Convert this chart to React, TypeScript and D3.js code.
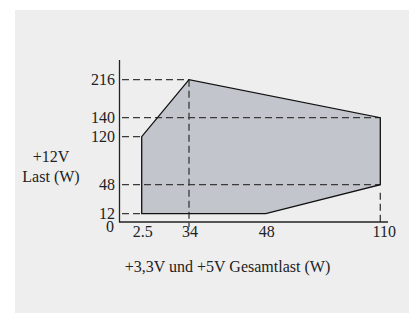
import React from 'react';
import * as d3 from 'd3';

// schematic chart: the ticks are not evenly spaced, so the scales are piecewise
const xTicks = [2.5, 34, 48, 110];
const yTicks = [0, 12, 48, 120, 140, 216];

// operating region corners [+3,3V/+5V load, +12V load]
const regionX = [2.5, 2.5, 34, 110, 110, 48];
const regionY = [12, 120, 216, 140, 48, 12];

// dashed guide lines
const hGuides = [
  { y: 216, toX: 34 },
  { y: 140, toX: 110 },
  { y: 120, toX: 2.5 },
  { y: 48, toX: 110 },
  { y: 12, toX: 2.5 },
];
const vGuides = [
  { x: 34, fromY: 216 },
  { x: 110, fromY: 48 },
];

const W = 409;
const H = 313;
const font = '"Liberation Serif", "Times New Roman", serif';

export default function App() {
  const x = d3.scaleLinear()
    .domain([0, 2.5, 34, 48, 110])
    .range([119.5, 141.7, 189, 265.7, 380.3]);
  const y = d3.scaleLinear()
    .domain([0, 12, 48, 120, 140, 216])
    .range([222, 213.7, 184.7, 136.7, 117.7, 79.7]);

  const pts: [number, number][] = regionX.map((v, i) => [x(v), y(regionY[i])]);
  const line = d3.line();
  const area = line(pts) + 'Z';
  const axisX0 = x(0);
  const axisY0 = y(0);

  return (
    <svg width={W} height={H} style={{ position: 'absolute', left: 0, top: 0, background: '#fff' }}>
      <rect x={15} y={10} width={W - 15} height={H - 10} fill="#eeeeee" />
      <path d={area} fill="#c2c5cc" />
      <g stroke="#3a3a3a" strokeWidth={1.3} strokeDasharray="7,4" fill="none">
        {hGuides.map((g, i) => (
          <line key={'h' + i} x1={axisX0 + 2.5} x2={x(g.toX)} y1={y(g.y)} y2={y(g.y)} />
        ))}
        {vGuides.map((g, i) => (
          <line key={'v' + i} x1={x(g.x)} x2={x(g.x)} y1={i === 0 ? y(g.fromY) : y(g.fromY) + 8} y2={i === 0 ? axisY0 + 5 : axisY0} />
        ))}
      </g>
      <path d={area} fill="none" stroke="#111" strokeWidth={1.3} strokeLinejoin="miter" />
      <g stroke="#222" strokeWidth={1.3}>
        <line x1={axisX0} x2={axisX0} y1={60} y2={axisY0 + 0.6} />
        <line x1={axisX0} x2={388} y1={axisY0} y2={axisY0} />
      </g>
      <g fontFamily={font} fontSize={16} fill="#222">
        {yTicks.filter(t => t > 0).map(t => (
          <text key={t} x={115} y={y(t)} dy="0.33em" textAnchor="end">{t}</text>
        ))}
        <text x={110} y={227} dy="0.33em" textAnchor="middle">0</text>
        {xTicks.map(t => (
          <text key={t} x={x(t) + (t === 110 ? 4 : 1)} y={232} dy="0.33em" textAnchor="middle">{t}</text>
        ))}
        <text x={51} y={157} dy="0.33em" textAnchor="middle">+12V</text>
        <text x={51} y={177} dy="0.33em" textAnchor="middle">Last (W)</text>
        <text x={227.5} y={267} dy="0.33em" textAnchor="middle">+3,3V und +5V Gesamtlast (W)</text>
      </g>
    </svg>
  );
}
